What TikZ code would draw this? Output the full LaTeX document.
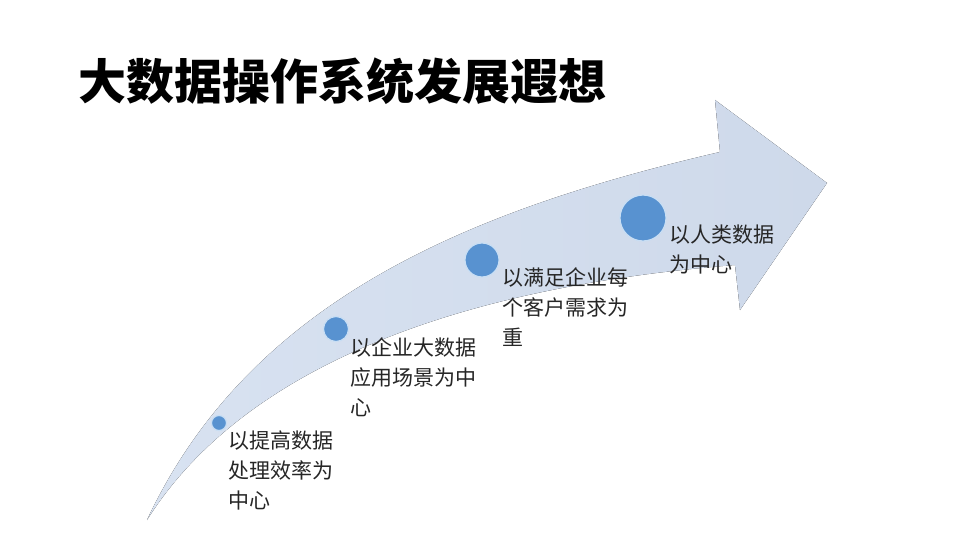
\documentclass[tikz,border=0pt]{standalone}
\usepackage{fontspec}
\newfontfamily\cjk{Noto Sans CJK SC}
\definecolor{arrowL}{RGB}{216,226,241}
\definecolor{arrowR}{RGB}{206,217,234}
\definecolor{dotblue}{RGB}{88,146,208}
\definecolor{halo}{RGB}{200,222,244}
\definecolor{txt}{RGB}{38,38,38}
\tikzset{
  dot/.style={circle, fill=dotblue, draw=halo, line width=1.2pt, inner sep=0pt},
  lbl/.style={font=\cjk\fontsize{21}{30}\selectfont, text=txt, align=left, anchor=north west, inner sep=0pt},
}
\begin{document}
\begin{tikzpicture}[x=1pt,y=-1pt]
\useasboundingbox[fill=white] (0,0) rectangle (960,540);
% curved arrow
\fill[left color=arrowL, right color=arrowR]
  (147,520) .. controls (250,300) and (470,210) .. (720,152)
  -- (715,100) -- (827,183) -- (740,310) -- (735,265)
  .. controls (420,290) and (232,385) .. (147,520) -- cycle;
% title
\node[font=\cjk\bfseries\fontsize{48}{56}\selectfont, anchor=west, inner sep=0pt] (title) at (78,81) {大数据操作系统发展遐想};
% dots
\node[dot, minimum size=15pt] (c1) at (219,423) {};
\node[dot, minimum size=25pt] (c2) at (336,329) {};
\node[dot, minimum size=34pt] (c3) at (482,260) {};
\node[dot, minimum size=46pt] (c4) at (643,218) {};
% labels
\node[lbl] (t1) at (228,431) {以提高数据\\处理效率为\\中心};
\node[lbl] (t2) at (350,337) {以企业大数据\\应用场景为中\\心};
\node[lbl] (t3) at (502,267) {以满足企业每\\个客户需求为\\重};
\node[lbl] (t4) at (669,225) {以人类数据\\为中心};
\end{tikzpicture}
\end{document}
